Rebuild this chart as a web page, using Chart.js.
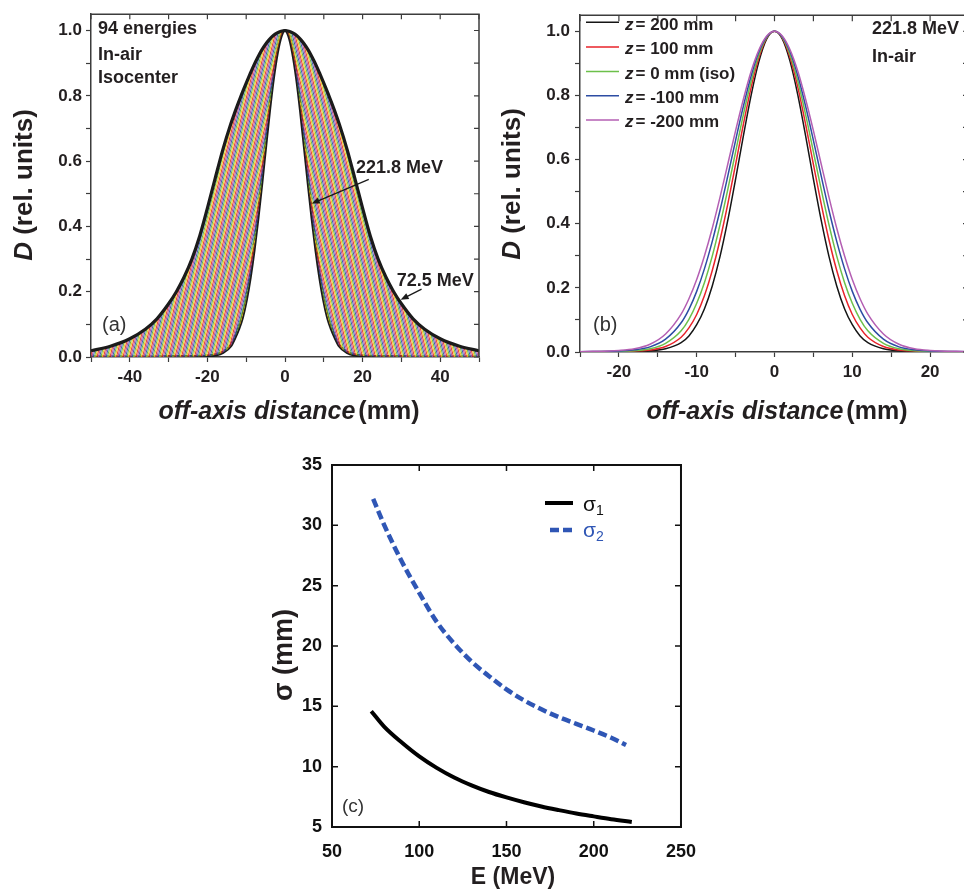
<!DOCTYPE html>
<html><head><meta charset="utf-8"><title>Lateral dose profiles</title>
<script src="https://cdn.jsdelivr.net/npm/chart.js@4.4.1/dist/chart.umd.min.js"></script>
<style>
html,body{margin:0;padding:0;background:#fff;width:964px;height:892px;overflow:hidden;}
canvas{position:absolute;display:block;}
</style></head><body>
<canvas id="ca" width="484" height="430" style="left:0;top:0"></canvas>
<canvas id="cb" width="485" height="430" style="left:490px;top:0"></canvas>
<canvas id="cc" width="440" height="452" style="left:270px;top:440px"></canvas>
<script>
// ---------------- panel (a) data ----------------
const distA = [-50,-45,-40,-36,-33,-30,-28,-26,-24,-22,-20,-18,-16,-14,-13,-12,-11,-10,-9,-8,-7,-6,-5,-4,-3,-2,-1,0,1,2,3,4,5,6,7,8,9,10,11,12,13,14,16,18,20,22,24,26,28,30,33,36,40,45,50];
const profile72_5 = [0.019,0.033,0.056,0.085,0.117,0.163,0.200,0.245,0.300,0.370,0.456,0.547,0.636,0.713,0.747,0.779,0.810,0.839,0.867,0.894,0.918,0.940,0.958,0.973,0.985,0.993,0.998,1.000,0.998,0.993,0.985,0.973,0.958,0.940,0.918,0.894,0.867,0.839,0.810,0.779,0.747,0.713,0.636,0.547,0.456,0.370,0.300,0.245,0.200,0.163,0.117,0.085,0.056,0.033,0.019];
const profile221_8 = [0,0,0,0,0,0.001,0.001,0.001,0.001,0.002,0.003,0.006,0.014,0.034,0.057,0.085,0.121,0.174,0.243,0.327,0.425,0.533,0.646,0.757,0.855,0.932,0.983,1.000,0.983,0.932,0.855,0.757,0.646,0.533,0.425,0.327,0.243,0.174,0.121,0.085,0.057,0.034,0.014,0.006,0.003,0.002,0.001,0.001,0.001,0.001,0,0,0,0,0];
const notesA = ['94 energies','In-air','Isocenter'];
const energyLabels = ['221.8 MeV','72.5 MeV'];
const stripeColors = ['#e5392c','#efc51b','#69b646','#3c5db3','#ad4a9c'];

// ---------------- panel (b) data ----------------
const distB = [-25,-20,-18,-16,-14,-12,-11,-10,-9,-8,-7,-6,-5,-4,-3,-2,-1,0,1,2,3,4,5,6,7,8,9,10,11,12,14,16,18,20,25];
const profZ200  = [0.000,0.001,0.002,0.004,0.010,0.029,0.050,0.085,0.135,0.206,0.298,0.411,0.539,0.674,0.801,0.906,0.976,1.000,0.976,0.906,0.801,0.674,0.539,0.411,0.298,0.206,0.135,0.085,0.050,0.029,0.010,0.004,0.002,0.001,0.000];
const profZ100  = [0.000,0.001,0.003,0.006,0.017,0.046,0.075,0.117,0.176,0.254,0.350,0.462,0.585,0.710,0.825,0.918,0.979,1.000,0.979,0.918,0.825,0.710,0.585,0.462,0.350,0.254,0.176,0.117,0.075,0.046,0.017,0.006,0.003,0.001,0.000];
const profZ0    = [0.000,0.002,0.004,0.010,0.027,0.066,0.102,0.152,0.217,0.299,0.397,0.507,0.624,0.740,0.844,0.927,0.981,1.000,0.981,0.927,0.844,0.740,0.624,0.507,0.397,0.299,0.217,0.152,0.102,0.066,0.027,0.010,0.004,0.002,0.000];
const profZm100 = [0.001,0.003,0.007,0.016,0.040,0.091,0.133,0.189,0.260,0.345,0.442,0.549,0.660,0.766,0.861,0.936,0.983,1.000,0.983,0.936,0.861,0.766,0.660,0.549,0.442,0.345,0.260,0.189,0.133,0.091,0.040,0.016,0.007,0.003,0.001];
const profZm200 = [0.001,0.005,0.010,0.024,0.056,0.118,0.166,0.226,0.300,0.386,0.483,0.586,0.690,0.788,0.875,0.942,0.985,1.000,0.985,0.942,0.875,0.788,0.690,0.586,0.483,0.386,0.300,0.226,0.166,0.118,0.056,0.024,0.010,0.005,0.001];
const zLabels = ['200 mm','100 mm','0 mm (iso)','-100 mm','-200 mm'];
const zColors = ['#151515','#e8232a','#6cc04a','#2d4da3','#b45fb3'];
const notesB = ['221.8 MeV','In-air'];

// ---------------- panel (c) data ----------------
const energyS1 = [72.5,80,90,100,110,120,130,140,150,160,170,180,190,200,210,221.8];
const sigma1   = [14.6,13.3,12.0,10.85,9.9,9.1,8.45,7.9,7.45,7.05,6.7,6.4,6.12,5.88,5.65,5.42];
const energyS2 = [73.6,80,90,100,110,120,130,140,150,160,170,180,190,200,210,218.5];
const sigma2   = [32.2,30.0,27.0,24.4,22.0,20.2,18.7,17.5,16.4,15.5,14.75,14.1,13.55,13.0,12.4,11.8];

// ---------------- helpers ----------------
const FONT = "'Liberation Sans', Arial, Helvetica, sans-serif";
const TXT = '#231f20', AX = '#3c3c3c';
const f = (w, s, st) => `${st||''} ${w} ${s}px ${FONT}`;
const pts = (xs, ys) => xs.map((x, i) => ({x, y: ys[i]}));
const isMult = (v, s) => Math.abs(v / s - Math.round(v / s)) < 1e-6;
const keepSteps = s => scale => { scale.ticks = scale.ticks.filter(t => isMult(t.value, s)); };

function rich(ctx, parts, x, y, o = {}) {
  ctx.save();
  ctx.translate(x, y);
  if (o.rot) ctx.rotate(o.rot);
  ctx.textBaseline = o.baseline || 'alphabetic';
  ctx.textAlign = 'left';
  let w = 0;
  parts.forEach(p => { ctx.font = p.f; p.w = ctx.measureText(p.t).width; w += p.w + (p.gap || 0); });
  let cx = o.align === 'center' ? -w / 2 : 0;
  parts.forEach(p => { ctx.font = p.f; ctx.fillStyle = p.c || TXT; ctx.fillText(p.t, cx, p.dy || 0); cx += p.w + (p.gap || 0); });
  ctx.restore();
}
function arrow(ctx, x1, y1, x2, y2) {
  const a = Math.atan2(y2 - y1, x2 - x1), L = 8, W = 3.2;
  ctx.save();
  ctx.strokeStyle = '#1a1a1a'; ctx.fillStyle = '#1a1a1a'; ctx.lineWidth = 1.3;
  ctx.beginPath(); ctx.moveTo(x1, y1); ctx.lineTo(x2 - L * Math.cos(a) * 0.8, y2 - L * Math.sin(a) * 0.8); ctx.stroke();
  ctx.beginPath();
  ctx.moveTo(x2, y2);
  ctx.lineTo(x2 - L * Math.cos(a) + W * Math.sin(a), y2 - L * Math.sin(a) - W * Math.cos(a));
  ctx.lineTo(x2 - L * Math.cos(a) - W * Math.sin(a), y2 - L * Math.sin(a) + W * Math.cos(a));
  ctx.closePath(); ctx.fill();
  ctx.restore();
}
function stripes(chart) {
  const a = chart.chartArea;
  if (!a) return 'rgba(0,0,0,0)';
  if (chart.$stripes) return chart.$stripes;
  const W = chart.width, H = chart.height;
  const cv = document.createElement('canvas'); cv.width = W; cv.height = H;
  const g = cv.getContext('2d');
  const x0 = chart.scales.x.getPixelForValue(0);
  const step = 1.3, s = 0.25, yb = a.bottom, yt = a.top, h = yb - yt;
  g.lineWidth = 1.0;
  [-1, 1].forEach(side => {
    g.save(); g.beginPath();
    if (side < 0) g.rect(0, 0, x0, H); else g.rect(x0, 0, W - x0, H);
    g.clip();
    const n = Math.ceil((W / 2 + h * s + 40) / step);
    for (let k = -5; k < n; k++) {
      const xb = x0 + side * k * step;
      g.strokeStyle = stripeColors[((k % 5) + 5) % 5];
      g.beginPath();
      g.moveTo(xb, yb + 2);
      g.lineTo(xb - side * (h + 4) * s, yt - 2);
      g.stroke();
    }
    g.restore();
  });
  chart.$stripes = chart.ctx.createPattern(cv, 'no-repeat');
  return chart.$stripes;
}
const frameInward = (len, lw, col) => ({
  id: 'frameInward',
  afterDraw(chart) {
    const {ctx, chartArea: a, scales: {x, y}} = chart;
    ctx.save(); ctx.strokeStyle = col; ctx.lineWidth = lw;
    ctx.beginPath(); ctx.moveTo(a.left, a.top); ctx.lineTo(a.right, a.top); ctx.lineTo(a.right, a.bottom); ctx.stroke();
    ctx.lineWidth = 1.2; ctx.beginPath();
    x.ticks.forEach(t => { const px = x.getPixelForValue(t.value); ctx.moveTo(px, a.top); ctx.lineTo(px, a.top + len); });
    y.ticks.forEach(t => { const py = y.getPixelForValue(t.value); ctx.moveTo(a.right, py); ctx.lineTo(a.right - len, py); });
    ctx.stroke(); ctx.restore();
  }
});
function profileScales(xmin, xmax, xstep, xlab, yw, xh, ypad) {
  return {
    x: {type: 'linear', min: xmin, max: xmax,
        ticks: {stepSize: xstep, autoSkip: false, includeBounds: false, maxRotation: 0, padding: 5, color: TXT, font: {family: FONT, size: 17, weight: 'bold'},
                callback: v => isMult(v, xlab) ? String(v) : ''},
        afterBuildTicks: keepSteps(xstep),
        afterFit: s => { s.height = xh; },
        grid: {display: true, drawOnChartArea: false, drawTicks: true, tickLength: 5, tickColor: AX, tickWidth: 1.2},
        border: {display: true, color: AX, width: 1.5}},
    y: {type: 'linear', min: 0, max: 1.05,
        ticks: {stepSize: 0.1, autoSkip: false, includeBounds: false, padding: ypad, color: TXT, font: {family: FONT, size: 17, weight: 'bold'},
                callback: v => isMult(v, 0.2) ? v.toFixed(1) : ''},
        afterBuildTicks: keepSteps(0.1),
        afterFit: s => { s.width = yw; },
        grid: {display: true, drawOnChartArea: false, drawTicks: true, tickLength: 5, tickColor: AX, tickWidth: 1.2},
        border: {display: true, color: AX, width: 1.5}}
  };
}
const common = {responsive: false, animation: false, devicePixelRatio: 1, events: [],
  plugins: {legend: {display: false}, tooltip: {enabled: false}},
  elements: {point: {radius: 0}}};

// ---------------- chart (a) ----------------
new Chart(document.getElementById('ca'), {
  type: 'line',
  data: {datasets: [
    {data: pts(distA, profile72_5), borderColor: '#1b1b1b', borderWidth: 3.2, cubicInterpolationMode: 'monotone',
     fill: '+1', backgroundColor: c => stripes(c.chart)},
    {data: pts(distA, profile221_8), borderColor: '#1b1b1b', borderWidth: 3.2, cubicInterpolationMode: 'monotone', fill: false}
  ]},
  options: Object.assign({}, common, {
    layout: {padding: {top: 9, right: 4, left: 0, bottom: 0}},
    scales: profileScales(-50, 50, 10, 20, 91, 73, 4)
  }),
  plugins: [frameInward(5, 1.5, AX), {
    id: 'decoA',
    afterDraw(chart) {
      const {ctx, scales: {x, y}} = chart;
      const P = (vx, vy) => [x.getPixelForValue(vx), y.getPixelForValue(vy)];
      [34, 60, 83].forEach((b, i) => rich(ctx, [{t: notesA[i], f: f('bold', 18)}], 98, b));
      rich(ctx, [{t: '(a)', f: f('normal', 20), c: '#333'}], 102, 331);
      let p = P(18.3, 0.563); rich(ctx, [{t: energyLabels[0], f: f('bold', 18)}], p[0], p[1]);
      p = P(28.8, 0.2175); rich(ctx, [{t: energyLabels[1], f: f('bold', 18)}], p[0], p[1]);
      let t1 = P(21.6, 0.544), t2 = P(6.9, 0.47); arrow(ctx, t1[0], t1[1], t2[0], t2[1]);
      t1 = P(35.2, 0.208); t2 = P(29.8, 0.175); arrow(ctx, t1[0], t1[1], t2[0], t2[1]);
      rich(ctx, [{t: 'D', f: f('bold', 26, 'italic')}, {t: ' (rel. units)', f: f('bold', 26)}], 25, 185, {rot: -Math.PI / 2, align: 'center', baseline: 'middle'});
      rich(ctx, [{t: 'off-axis distance', f: f('bold', 25, 'italic'), gap: 3}, {t: '(mm)', f: f('bold', 25)}], 289, 412, {align: 'center', baseline: 'middle'});
    }
  }]
});

// ---------------- chart (b) ----------------
const profilesB = [profZ200, profZ100, profZ0, profZm100, profZm200];
new Chart(document.getElementById('cb'), {
  type: 'line',
  data: {datasets: profilesB.map((ys, i) => ({data: pts(distB, ys), borderColor: zColors[i], borderWidth: 1.5,
    cubicInterpolationMode: 'monotone', fill: false})).reverse()},
  options: Object.assign({}, common, {
    layout: {padding: {top: 6, right: 6, left: 0, bottom: 0}},
    scales: profileScales(-25, 25, 5, 10, 90, 78, 5)
  }),
  plugins: [frameInward(6, 1.5, AX), {
    id: 'decoB',
    afterDraw(chart) {
      const {ctx} = chart;
      const ox = 490;
      const lineY = [22.3, 47, 71.5, 95.8, 120];
      zLabels.forEach((lab, i) => {
        ctx.save(); ctx.strokeStyle = zColors[i]; ctx.lineWidth = 1.6;
        ctx.beginPath(); ctx.moveTo(586 - ox, lineY[i]); ctx.lineTo(619 - ox, lineY[i]); ctx.stroke(); ctx.restore();
        rich(ctx, [{t: 'z', f: f('bold', 17, 'italic'), gap: 2}, {t: '= ' + lab, f: f('bold', 17)}], 625 - ox, lineY[i] + 7.3);
      });
      rich(ctx, [{t: notesB[0], f: f('bold', 18)}], 872 - ox, 34.3);
      rich(ctx, [{t: notesB[1], f: f('bold', 18)}], 872 - ox, 62);
      rich(ctx, [{t: '(b)', f: f('normal', 20), c: '#333'}], 593 - ox, 331);
      rich(ctx, [{t: 'D', f: f('bold', 26, 'italic')}, {t: ' (rel. units)', f: f('bold', 26)}], 513 - ox, 184, {rot: -Math.PI / 2, align: 'center', baseline: 'middle'});
      rich(ctx, [{t: 'off-axis distance', f: f('bold', 25, 'italic'), gap: 3}, {t: '(mm)', f: f('bold', 25)}], 777 - ox, 412, {align: 'center', baseline: 'middle'});
    }
  }]
});

// ---------------- chart (c) ----------------
new Chart(document.getElementById('cc'), {
  type: 'line',
  data: {datasets: [
    {data: pts(energyS1, sigma1), borderColor: '#000', borderWidth: 4, cubicInterpolationMode: 'monotone', fill: false},
    {data: pts(energyS2, sigma2), borderColor: '#2f56b5', borderWidth: 4.5, borderDash: [9, 4], cubicInterpolationMode: 'monotone', fill: false}
  ]},
  options: Object.assign({}, common, {
    layout: {padding: {top: 25, right: 16, left: 0, bottom: 0}},
    scales: {
      x: {type: 'linear', min: 50, max: 250,
          ticks: {stepSize: 50, padding: 14, maxRotation: 0, color: '#111', font: {family: FONT, size: 18, weight: 'bold'}},
          afterFit: s => { s.height = 65; },
          grid: {display: false, drawTicks: false}, border: {display: false}},
      y: {type: 'linear', min: 5, max: 35,
          ticks: {stepSize: 5, padding: 10, color: '#111', font: {family: FONT, size: 18, weight: 'bold'}},
          afterFit: s => { s.width = 62; },
          grid: {display: false, drawTicks: false}, border: {display: false}}
    }
  }),
  plugins: [{
    id: 'decoC',
    afterDraw(chart) {
      const {ctx, chartArea: a, scales: {x, y}} = chart;
      ctx.save(); ctx.strokeStyle = '#111'; ctx.lineWidth = 2;
      ctx.strokeRect(a.left, a.top, a.right - a.left, a.bottom - a.top);
      ctx.lineWidth = 1.5; ctx.beginPath();
      x.ticks.forEach(t => { const px = x.getPixelForValue(t.value);
        ctx.moveTo(px, a.bottom); ctx.lineTo(px, a.bottom - 6); ctx.moveTo(px, a.top); ctx.lineTo(px, a.top + 6); });
      y.ticks.forEach(t => { const py = y.getPixelForValue(t.value);
        ctx.moveTo(a.left, py); ctx.lineTo(a.left + 6, py); ctx.moveTo(a.right, py); ctx.lineTo(a.right - 6, py); });
      ctx.stroke();
      // legend
      ctx.lineWidth = 4; ctx.strokeStyle = '#000'; ctx.setLineDash([]);
      ctx.beginPath(); ctx.moveTo(275, 63); ctx.lineTo(303, 63); ctx.stroke();
      ctx.strokeStyle = '#2f56b5'; ctx.lineWidth = 4.5; ctx.setLineDash([9, 4]);
      ctx.beginPath(); ctx.moveTo(280, 90); ctx.lineTo(303, 90); ctx.stroke();
      ctx.restore();
      rich(ctx, [{t: 'σ', f: f('normal', 21), c: '#111'}, {t: '1', f: f('normal', 14), c: '#111', dy: 4}], 313, 70.5);
      rich(ctx, [{t: 'σ', f: f('normal', 21), c: '#2f56b5'}, {t: '2', f: f('normal', 14), c: '#2f56b5', dy: 4}], 313, 96.5);
      rich(ctx, [{t: '(c)', f: f('normal', 19), c: '#333'}], 72, 372);
      rich(ctx, [{t: 'σ (mm)', f: f('bold', 27)}], 15, 215, {rot: -Math.PI / 2, align: 'center', baseline: 'middle'});
      rich(ctx, [{t: 'E (MeV)', f: f('bold', 23)}], 243, 438, {align: 'center', baseline: 'middle'});
    }
  }]
});
</script>
</body></html>
